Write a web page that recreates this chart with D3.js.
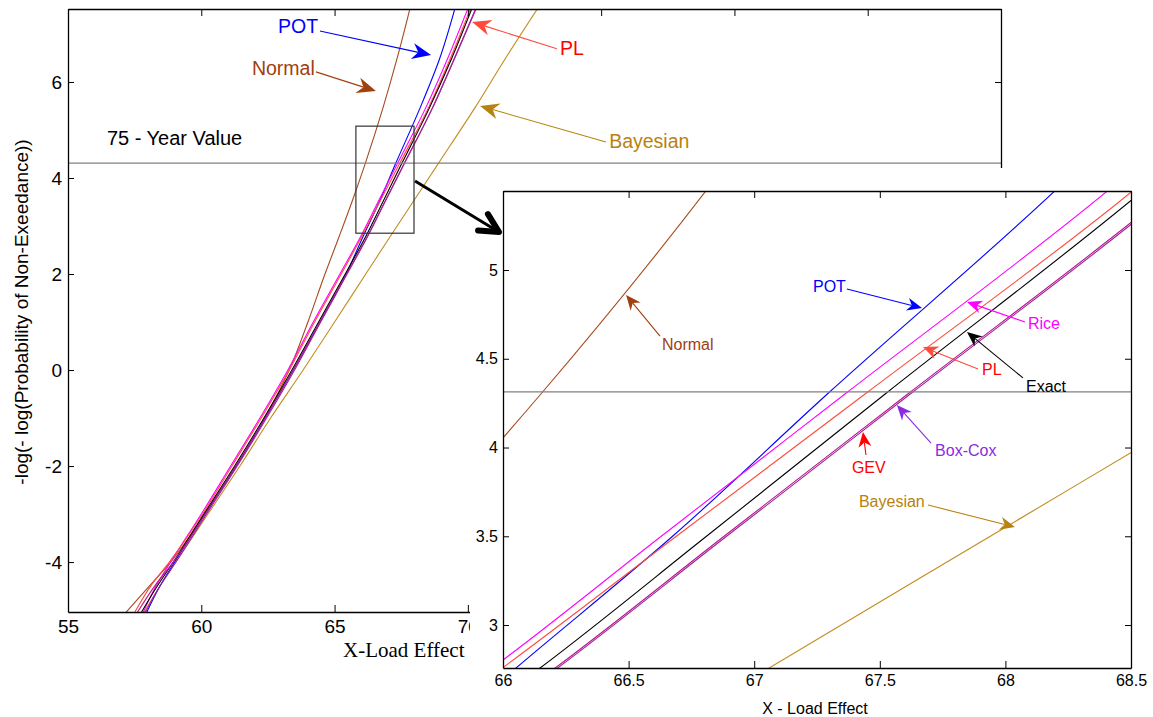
<!DOCTYPE html>
<html><head><meta charset="utf-8">
<script src="https://cdn.jsdelivr.net/npm/d3@7"></script>
<style>body{margin:0;background:#fff}svg{display:block}</style>
</head><body><svg id="c" width="1153" height="717"></svg>
<script>
// ---- data ----
const yLevels = [-5.05, -4.5, -4, -3, -2, -1, 0, 1, 2, 2.75, 3.5, 4.3, 5.45, 6.5, 7.6];
const exactX  = [57.75, 58.35, 58.95, 60.10, 61.25, 62.35, 63.40, 64.40, 65.40, 66.14, 66.81, 67.52, 68.55, 69.40, 70.20];
const riceX   = [57.82, 58.30, 58.85, 60.00, 61.10, 62.20, 63.25, 64.20, 65.20, 65.95, 66.63, 67.36, 68.41, 69.25, 70.05];
const plX     = [57.50, 58.10, 58.80, 60.05, 61.15, 62.25, 63.30, 64.25, 65.25, 65.99, 66.69, 67.44, 68.51, 69.35, 70.15];
const potX    = [57.95, 58.45, 59.00, 60.15, 61.30, 62.40, 63.45, 64.45, 65.43, 66.045, 66.675, 67.29, 68.20, 68.95, 69.55];
const gevX    = [57.60, 58.25, 58.95, 60.15, 61.30, 62.40, 63.45, 64.45, 65.45, 66.20, 66.88, 67.61, 68.66, 69.50, 70.35];
const boxcoxX = [57.90, 58.45, 59.05, 60.20, 61.35, 62.45, 63.50, 64.48, 65.47, 66.21, 66.89, 67.62, 68.67, 69.51, 70.37];
const normalX = [57.17, 58.05, 58.85, 60.12, 61.32, 62.38, 63.30, 64.00, 64.64, 65.15, 65.65, 66.15, 66.81, 67.35, 67.86];
const bayesX  = [57.85, 58.45, 59.05, 60.25, 61.45, 62.60, 63.82, 65.00, 66.17, 67.05, 67.94, 68.89, 70.25, 71.42, 72.70];
const seriesNames = ["Normal", "Bayesian", "POT", "Rice", "PL", "Exact", "GEV", "Box-Cox"];
const seriesX = [normalX, bayesX, potX, riceX, plX, exactX, gevX, boxcoxX];
const yearValue = 4.313;               // 75-year value
const mainXTicks = [55, 60, 65, 70, 75, 80, 85, 90];
const mainYTicks = [-4, -2, 0, 2, 4, 6];
const insetXTicks = [66, 66.5, 67, 67.5, 68, 68.5];
const insetYTicks = [3, 3.5, 4, 4.5, 5];
const zoomBox = {x0: 65.8, x1: 67.98, y0: 2.85, y1: 5.08};

// ---- styles ----
const colors = {"Normal":"#a64a1e","Bayesian":"#c28c1e","POT":"#0000ff","Rice":"#ff00ff","PL":"#ff4a3c",
                "Exact":"#000000","GEV":"#b8168c","Box-Cox":"#9c229e"};
const SANS = "'Liberation Sans', Arial, Helvetica, sans-serif";
const SERIF = "'Liberation Serif', 'Times New Roman', serif";
const fmt = d => String(d);

const svg = d3.select("#c");
const defs = svg.append("defs");

// ---- main panel ----
const xM = d3.scaleLinear([55, 90], [68, 1001]);
const yM = d3.scaleLinear([-5.04, 7.52], [612, 9]);
defs.append("clipPath").attr("id","clipM").append("rect")
  .attr("x", 68).attr("y", 9).attr("width", 1001-68).attr("height", 612-9);

const gM = svg.append("g");
const mkLine = (xs, ys) => d3.line().curve(d3.curveMonotoneY).x(d => xs(d[0])).y(d => ys(d[1]));
const ptsOf = arr => arr.map((x, i) => [x, yLevels[i]]);

const linesM = gM.append("g").attr("clip-path","url(#clipM)");
seriesNames.forEach((n, i) => {
  linesM.append("path").attr("d", mkLine(xM, yM)(ptsOf(seriesX[i])))
    .attr("fill","none").attr("stroke", colors[n]).attr("stroke-width", 1.1);
});
// 75-year line
gM.append("line").attr("x1", xM(55)).attr("x2", xM(90)).attr("y1", yM(4.31)).attr("y2", yM(4.31))
  .attr("stroke","#808080").attr("stroke-width",1.3);
// zoom rectangle
gM.append("rect").attr("x", xM(zoomBox.x0)).attr("y", yM(zoomBox.y1))
  .attr("width", xM(zoomBox.x1)-xM(zoomBox.x0)).attr("height", yM(zoomBox.y0)-yM(zoomBox.y1))
  .attr("fill","none").attr("stroke","#333").attr("stroke-width",1.2);

function styleAxis(g, fs) {
  g.select(".domain").attr("stroke","#000").attr("stroke-width",1.3);
  g.selectAll(".tick line").attr("stroke","#000");
  g.selectAll(".tick text").attr("font-family", SANS).attr("font-size", fs).attr("fill","#000");
}
styleAxis(gM.append("g").attr("transform","translate(0,612)")
  .call(d3.axisBottom(xM).tickValues(mainXTicks).tickSize(-7).tickSizeOuter(0).tickPadding(8).tickFormat(fmt)), 19);
styleAxis(gM.append("g").attr("transform","translate(0,9)")
  .call(d3.axisTop(xM).tickValues(mainXTicks).tickSize(-7).tickSizeOuter(0).tickFormat("")), 19);
styleAxis(gM.append("g").attr("transform","translate(68,0)")
  .call(d3.axisLeft(yM).tickValues(mainYTicks).tickSize(-6).tickSizeOuter(0).tickPadding(6).tickFormat(fmt)), 19);
styleAxis(gM.append("g").attr("transform","translate(1001,0)")
  .call(d3.axisRight(yM).tickValues(mainYTicks).tickSize(-6).tickSizeOuter(0).tickFormat("")), 19);

// main labels
gM.append("text").attr("transform","translate(28,312) rotate(-90)").attr("text-anchor","middle")
  .attr("font-family", SANS).attr("font-size", 19).text("-log(- log(Probability of Non-Exeedance))");
gM.append("text").attr("x", 343).attr("y", 657).attr("font-family", SERIF).attr("font-size", 21)
  .text("X-Load Effect");
gM.append("text").attr("x", xM(56.46)).attr("y", yM(4.69)).attr("font-family", SANS).attr("font-size", 20)
  .text("75 - Year Value");

function arrowHead(g, x1, y1, x2, y2, color, len, half, notch, sw) {
  const a = Math.atan2(y2 - y1, x2 - x1), c = Math.cos(a), s = Math.sin(a);
  const bx = x2 - len * c, by = y2 - len * s;
  const nx = x2 - (len - notch) * c, ny = y2 - (len - notch) * s;
  g.append("line").attr("x1", x1).attr("y1", y1).attr("x2", nx).attr("y2", ny)
    .attr("stroke", color).attr("stroke-width", sw);
  g.append("path").attr("d", `M${x2},${y2}L${bx - half*s},${by + half*c}L${nx},${ny}L${bx + half*s},${by - half*c}Z`)
    .attr("fill", color);
}
const mainAnn = [
  {t:"POT", c:"#0000ff", tx:62.88, ty:7.02, ax:64.45, ay:7.06, bx:68.62, by:6.56},
  {t:"Normal", c:"#a0400e", tx:61.90, ty:6.15, ax:64.30, ay:6.21, bx:66.55, by:5.81},
  {t:"PL", c:"#ff0000", tx:73.46, ty:6.56, ax:73.34, ay:6.69, bx:70.16, by:7.25, lc:"#ff4a3c"},
  {t:"Bayesian", c:"#b8820e", tx:75.30, ty:4.63, ax:75.18, ay:4.75, bx:70.46, by:5.50}
];
mainAnn.forEach(d => {
  gM.append("text").attr("x", xM(d.tx)).attr("y", yM(d.ty)).attr("font-family", SANS)
    .attr("font-size", 19.5).attr("fill", d.c).text(d.t);
  arrowHead(gM, xM(d.ax), yM(d.ay), xM(d.bx), yM(d.by), d.lc || d.c, 19, 8, 6, 1.1);
});

// ---- inset panel ----
svg.append("rect").attr("x", 470).attr("y", 168).attr("width", 683).attr("height", 549).attr("fill","#fff");
const xI = d3.scaleLinear([66, 68.5], [503, 1131]);
const yI = d3.scaleLinear([2.758, 5.445], [668, 191]);
defs.append("clipPath").attr("id","clipI").append("rect")
  .attr("x", 503).attr("y", 191).attr("width", 1131-503).attr("height", 668-191);
const gI = svg.append("g");
const linesI = gI.append("g").attr("clip-path","url(#clipI)");
seriesNames.forEach((n, i) => {
  linesI.append("path").attr("d", mkLine(xI, yI)(ptsOf(seriesX[i])))
    .attr("fill","none").attr("stroke", colors[n]).attr("stroke-width", 1.1);
});
gI.append("line").attr("x1", xI(66)).attr("x2", xI(68.5)).attr("y1", yI(yearValue)).attr("y2", yI(yearValue))
  .attr("stroke","#808080").attr("stroke-width",1.3);
styleAxis(gI.append("g").attr("transform","translate(0,668)")
  .call(d3.axisBottom(xI).tickValues(insetXTicks).tickSize(-7).tickSizeOuter(0).tickPadding(7).tickFormat(fmt)), 16);
styleAxis(gI.append("g").attr("transform","translate(0,191)")
  .call(d3.axisTop(xI).tickValues(insetXTicks).tickSize(-7).tickSizeOuter(0).tickFormat("")), 16);
styleAxis(gI.append("g").attr("transform","translate(503,0)")
  .call(d3.axisLeft(yI).tickValues(insetYTicks).tickSize(-6).tickSizeOuter(0).tickPadding(5).tickFormat(fmt)), 16);
styleAxis(gI.append("g").attr("transform","translate(1131,0)")
  .call(d3.axisRight(yI).tickValues(insetYTicks).tickSize(-6).tickSizeOuter(0).tickFormat("")), 16);
gI.append("text").attr("x", 815).attr("y", 714).attr("text-anchor","middle").attr("font-family", SANS)
  .attr("font-size", 16).text("X - Load Effect");

const insetAnn = [
  {t:"Normal", c:"#a0400e", tx:66.633, ty:4.549, ax:66.625, ay:4.628, bx:66.490, by:4.859},
  {t:"POT", c:"#0000ff", tx:67.234, ty:4.876, ax:67.369, ay:4.893, bx:67.668, by:4.786},
  {t:"Rice", c:"#ff00ff", tx:68.090, ty:4.668, ax:68.078, ay:4.707, bx:67.847, by:4.820},
  {t:"PL", c:"#ff0000", tx:67.907, ty:4.408, ax:67.891, ay:4.442, bx:67.672, by:4.566, lc:"#ff4a3c"},
  {t:"Exact", c:"#000000", tx:68.082, ty:4.313, ax:68.070, ay:4.392, bx:67.847, by:4.651},
  {t:"Box-Cox", c:"#8a2be2", tx:67.720, ty:3.952, ax:67.704, ay:4.025, bx:67.568, by:4.239},
  {t:"GEV", c:"#ff0000", tx:67.389, ty:3.856, ax:67.445, ay:3.958, bx:67.433, by:4.087},
  {t:"Bayesian", c:"#b8820e", tx:67.417, ty:3.665, ax:67.692, ay:3.676, bx:68.038, by:3.552}
];
insetAnn.forEach(d => {
  gI.append("text").attr("x", xI(d.tx)).attr("y", yI(d.ty)).attr("font-family", SANS)
    .attr("font-size", 16).attr("fill", d.c).text(d.t);
  arrowHead(gI, xI(d.ax), yI(d.ay), xI(d.bx), yI(d.by), d.lc || d.c, 15, 6.5, 4.5, 1.1);
});

// ---- connector arrow from zoom box to inset ----
(function(){
  const x1 = xM(zoomBox.x1) + 1, y1 = 181, x2 = 499, y2 = 232;
  const a = Math.atan2(y2 - y1, x2 - x1);
  const g = svg.append("g");
  g.append("line").attr("x1", x1).attr("y1", y1).attr("x2", x2 - 3*Math.cos(a)).attr("y2", y2 - 3*Math.sin(a))
    .attr("stroke","#000").attr("stroke-width",3);
  const L = 21, sp = 27 * Math.PI / 180;
  const p1 = [x2 - L*Math.cos(a - sp), y2 - L*Math.sin(a - sp)];
  const p2 = [x2 - L*Math.cos(a + sp), y2 - L*Math.sin(a + sp)];
  g.append("path").attr("d", `M${p1[0]},${p1[1]}L${x2},${y2}L${p2[0]},${p2[1]}`)
    .attr("fill","none").attr("stroke","#000").attr("stroke-width",6)
    .attr("stroke-linecap","round").attr("stroke-linejoin","round");
})();
</script>
</body></html>
